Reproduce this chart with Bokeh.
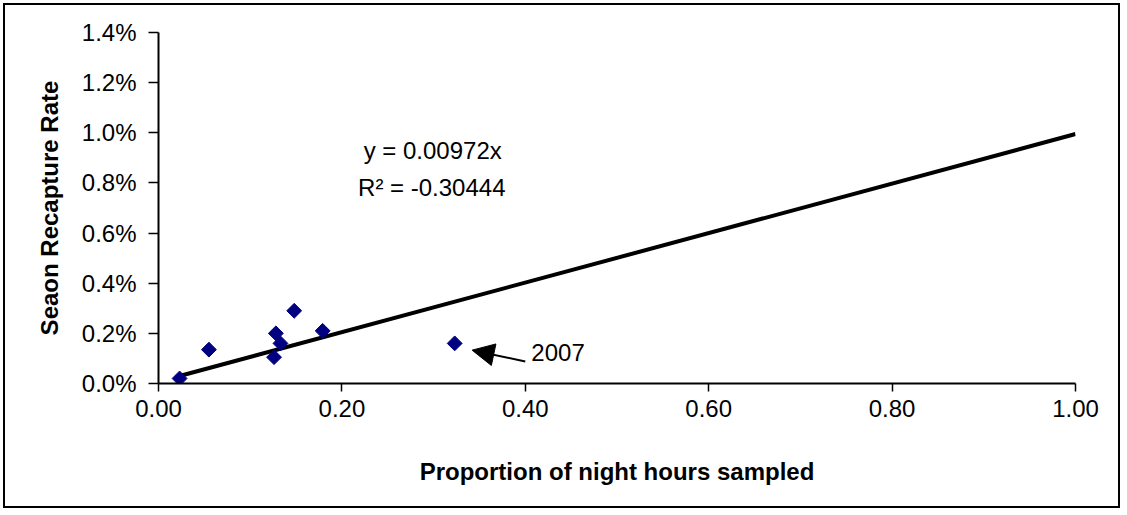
import numpy as np
from bokeh.plotting import figure
from bokeh.models import (Range1d, NumeralTickFormatter, FixedTicker, Label, Arrow,
                          NormalHead, ColumnDataSource)
from bokeh.embed import file_html
from bokeh.resources import INLINE

# data
proportion = [0.023, 0.055, 0.128, 0.133, 0.126, 0.148, 0.179, 0.323]
recapture = [0.0002, 0.00135, 0.0020, 0.0016, 0.00105, 0.0029, 0.0021, 0.0016]
trend_x = [0.023, 1.0]
trend_y = [0.0003, 0.00995]
x_ticks = [0.0, 0.2, 0.4, 0.6, 0.8, 1.0]
y_ticks = [0.0, 0.002, 0.004, 0.006, 0.008, 0.010, 0.012, 0.014]
eq_text = "y = 0.00972x"
r2_text = "R\u00b2 = -0.30444"
note_text = "2007"

FONT = "Liberation Sans"
FS = "24px"

p = figure(width=1117, height=505, output_backend="svg", toolbar_location=None,
           x_range=Range1d(0, 1.0), y_range=Range1d(0, 0.014),
           min_border_left=153, min_border_right=47, min_border_top=27,
           min_border_bottom=127)
p.outline_line_color = None
p.xgrid.visible = False
p.ygrid.visible = False
p.background_fill_color = "white"
p.border_fill_color = "white"
p.styles = {"border": "2px solid black", "margin": "3px"}

for ax in (p.xaxis[0], p.yaxis[0]):
    ax.axis_line_color = "black"
    ax.axis_line_width = 2
    ax.major_tick_line_color = "black"
    ax.major_tick_line_width = 1.5
    ax.minor_tick_line_color = None
    ax.major_tick_in = 0
    ax.major_label_text_font = FONT
    ax.major_label_text_font_size = FS
    ax.major_label_text_color = "black"
    ax.axis_label_text_font = FONT
    ax.axis_label_text_font_style = "bold"
    ax.axis_label_text_font_size = FS
    ax.axis_label_text_color = "black"

p.xaxis.ticker = FixedTicker(ticks=x_ticks)
p.xaxis.formatter = NumeralTickFormatter(format="0.00")
p.xaxis.major_tick_out = 8
p.xaxis.major_label_standoff = 8
p.xaxis.axis_label = "Proportion of night hours sampled"
p.xaxis.axis_label_standoff = 38

p.yaxis.ticker = FixedTicker(ticks=y_ticks)
p.yaxis.formatter = NumeralTickFormatter(format="0.0%")
p.yaxis.major_tick_out = 10
p.yaxis.major_label_standoff = 12
p.yaxis.axis_label = "Seaon Recapture Rate"
p.yaxis.axis_label_standoff = 16

p.line(trend_x, trend_y, line_color="black", line_width=4)

src = ColumnDataSource(dict(x=proportion, y=recapture))
p.scatter("x", "y", source=src, marker="square", angle=np.pi / 4, size=10.5,
          fill_color="#000080", line_color="#000080")

p.add_layout(Label(x=0.299, y=0.0093, text=eq_text, text_align="center",
                   text_baseline="middle", text_font=FONT, text_font_size=FS,
                   text_color="black"))
p.add_layout(Label(x=0.298, y=0.00783, text=r2_text, text_align="center",
                   text_baseline="middle", text_font=FONT, text_font_size=FS,
                   text_color="black"))

p.add_layout(Arrow(end=NormalHead(size=22, fill_color="black", line_color="black"),
                   x_start=0.400, y_start=0.00088, x_end=0.342, y_end=0.00133,
                   line_color="black", line_width=2))
p.add_layout(Label(x=0.4066, y=0.00123, text=note_text, text_align="left",
                   text_baseline="middle", text_font=FONT, text_font_size=FS,
                   text_color="black"))

open("out.html", "w").write(file_html(p, INLINE))
